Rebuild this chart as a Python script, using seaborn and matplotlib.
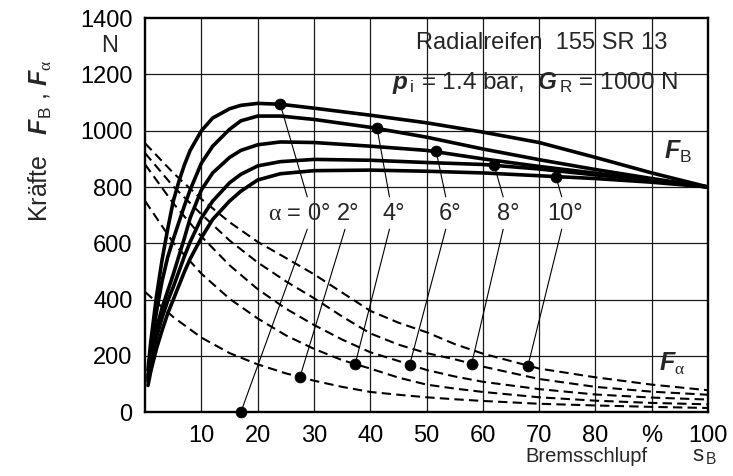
import pandas as pd
import matplotlib.pyplot as plt
import seaborn as sns

# Bremsschlupf s_B in %, forces in N
fb_x = [0.5, 1, 2, 3, 4, 5, 6, 7, 8, 10, 12, 15, 17, 20, 24, 30, 40, 50, 60, 70, 80, 90, 100]
fb_a0 = [150, 250, 410, 540, 650, 750, 820, 880, 930, 1000, 1045, 1078, 1090, 1097, 1094, 1080, 1055, 1028, 995, 958, 905, 850, 800]
fb_a4 = [130, 215, 355, 465, 550, 615, 675, 735, 790, 885, 945, 1005, 1035, 1052, 1052, 1040, 1012, 977, 935, 897, 862, 830, 800]
fb_a6 = [120, 190, 295, 370, 430, 490, 555, 620, 690, 790, 850, 905, 930, 950, 960, 958, 945, 930, 900, 873, 849, 824, 800]
fb_a8 = [110, 175, 265, 335, 395, 445, 500, 555, 605, 690, 750, 815, 845, 875, 890, 898, 895, 887, 880, 864, 843, 823, 800]
fb_a10 = [95, 145, 225, 290, 350, 400, 450, 500, 545, 620, 685, 750, 785, 825, 847, 858, 860, 856, 850, 840, 830, 817, 800]

fa_x = [0, 5, 10, 15, 20, 25, 30, 35, 40, 45, 50, 55, 60, 70, 80, 90, 100]
fa_a10 = [955, 850, 757, 675, 605, 548, 490, 425, 360, 318, 284, 242, 208, 155, 124, 98, 78]
fa_a8 = [920, 802, 703, 610, 532, 465, 405, 340, 280, 240, 210, 188, 162, 118, 90, 73, 62]
fa_a6 = [880, 742, 624, 522, 437, 368, 310, 258, 213, 182, 150, 127, 108, 82, 63, 52, 45]
fa_a4 = [750, 602, 492, 403, 333, 273, 225, 185, 155, 123, 98, 84, 72, 53, 41, 33, 28]
fa_a2 = [427, 338, 265, 210, 170, 138, 112, 90, 72, 62, 53, 46, 40, 30, 24, 19, 15]

# marked points and their labels
fb_dot_x = [24, 41.2, 51.7, 62, 73]
fb_dot_y = [1094, 1009, 927, 878, 835]
fb_dot_lab = ["0°", "4°", "6°", "8°", "10°"]
fa_dot_x = [17, 27.5, 37.3, 47, 58, 68]
fa_dot_y = [0, 125, 170, 169, 172, 165]
fa_dot_lab = ["0°", "2°", "4°", "6°", "8°", "10°"]
labels = ["0°", "2°", "4°", "6°", "8°", "10°"]
label_x = [33.0, 36.1, 44.2, 54.2, 64.5, 74.6]
anchor_x = [28.8, 35.5, 43.4, 53.4, 63.6, 74.0]

x_ticks = [10, 20, 30, 40, 50, 60, 70, 80, 90, 100]
x_ticklabels = ["10", "20", "30", "40", "50", "60", "70", "80", "%", "100"]
y_ticks = [0, 200, 400, 600, 800, 1000, 1200, 1400]

sns.set_style("white")
plt.rcParams["font.family"] = ["Liberation Sans", "DejaVu Sans"]
plt.rcParams["mathtext.fontset"] = "custom"
plt.rcParams["mathtext.rm"] = "Liberation Serif"
plt.rcParams["mathtext.sf"] = "Liberation Sans"
plt.rcParams["mathtext.bf"] = "Liberation Sans:bold:italic"
plt.rcParams["mathtext.it"] = "Liberation Sans:italic"

fig = plt.figure(figsize=(7.33, 4.76), dpi=100)
ax = fig.add_axes([0.198, 0.134, 0.768, 0.828])

for ys in [fb_a0, fb_a4, fb_a6, fb_a8, fb_a10]:
    df = pd.DataFrame({"s": fb_x, "F": ys})
    sns.lineplot(data=df, x="s", y="F", ax=ax, color="black", lw=2.6,
                 estimator=None, sort=False)

for ys in [fa_a10, fa_a8, fa_a6, fa_a4, fa_a2]:
    df = pd.DataFrame({"s": fa_x, "F": ys})
    sns.lineplot(data=df, x="s", y="F", ax=ax, color="black", lw=1.5,
                 estimator=None, sort=False)
    ax.lines[-1].set_dashes([4.5, 2.5])

label_y = 705
# leader lines from the labels to the marked points
for lab, axx in zip(labels, anchor_x):
    if lab in fb_dot_lab:
        i = fb_dot_lab.index(lab)
        ax.plot([axx, fb_dot_x[i]], [label_y + 60, fb_dot_y[i]], color="black", lw=0.8)
    i = fa_dot_lab.index(lab)
    ax.plot([axx, fa_dot_x[i]], [label_y - 55, fa_dot_y[i]], color="black", lw=0.8)

sns.scatterplot(x=fb_dot_x + fa_dot_x, y=fb_dot_y + fa_dot_y, ax=ax, color="black",
                s=60, edgecolor="black", zorder=5, clip_on=False)

for lab, lx in zip(labels, label_x):
    if lab == "0°":
        ax.text(lx, label_y, r"$\mathrm{\alpha}$ = " + lab, ha="right", va="center", fontsize=17)
    else:
        ax.text(lx, label_y, lab, ha="center", va="center", fontsize=17)

ax.text(70.5, 1310, "Radialreifen  155 SR 13", ha="center", va="center", fontsize=17)
ax.text(69.3, 1170, r"$\mathbf{p}_{\,\mathsf{i}}$ = 1.4 bar,  $\mathbf{G}_{\,\mathsf{R}}$ = 1000 N",
        ha="center", va="center", fontsize=17.5)
ax.text(94.7, 926, r"$\mathbf{F}_{\mathsf{B}}$", ha="center", va="center", fontsize=18)
ax.text(93.6, 170, r"$\mathbf{F}_{\mathrm{\alpha}}$", ha="center", va="center", fontsize=18)
ax.text(-6.4, 1300, "N", ha="center", va="center", fontsize=17)

ax.set_xlim(0, 100)
ax.set_ylim(0, 1400)
ax.set_xticks(x_ticks)
ax.set_xticklabels(x_ticklabels)
ax.set_yticks(y_ticks)
ax.tick_params(length=0, labelsize=17, colors="black")
ax.tick_params(axis="y", pad=9)
ax.tick_params(axis="x", pad=9)
ax.set_xlabel("")
ax.set_ylabel("")

for v in x_ticks[:-1]:
    ax.axvline(v, color="#1a1a1a", lw=0.9, zorder=0)
for v in [200, 400, 600, 800, 1000, 1200]:
    ax.axhline(v, color="#1a1a1a", lw=0.9, zorder=0)

for sp in ax.spines.values():
    sp.set_color("black")
    sp.set_linewidth(1.7)
    sp.set_visible(True)

fig.text(0.883, 0.04, "Bremsschlupf", ha="right", va="center", fontsize=14.5)
fig.text(0.944, 0.04, r"$\mathsf{s}_{\,\mathsf{B}}$", ha="left", va="center", fontsize=16)
fig.text(0.055, 0.705, r"Kräfte   $\mathbf{F}_{\mathsf{B}}$ , $\mathbf{F}_{\mathrm{\alpha}}$",
         ha="center", va="center", rotation=90, fontsize=18)

fig.savefig("out.png", dpi=100, facecolor="white")
